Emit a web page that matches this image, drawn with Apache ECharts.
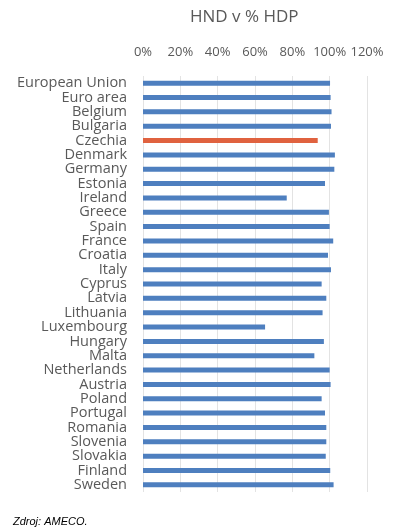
<!DOCTYPE html>
<html>
<head>
<meta charset="utf-8">
<script src="https://cdn.jsdelivr.net/npm/echarts@6/dist/echarts.min.js"></script>
<style>
  html, body { margin: 0; padding: 0; background: #fff; }
  #chart { width: 397px; height: 532px; }
</style>
</head>
<body>
<div id="chart"></div>
<script>
  const countries = ['European Union', 'Euro area', 'Belgium', 'Bulgaria', 'Czechia', 'Denmark', 'Germany',
    'Estonia', 'Ireland', 'Greece', 'Spain', 'France', 'Croatia', 'Italy', 'Cyprus', 'Latvia', 'Lithuania',
    'Luxembourg', 'Hungary', 'Malta', 'Netherlands', 'Austria', 'Poland', 'Portugal', 'Romania', 'Slovenia',
    'Slovakia', 'Finland', 'Sweden'];
  const hndShare = [100.2, 100.5, 101.0, 100.7, 93.6, 102.8, 102.5, 97.5, 77.0, 99.6, 100.0, 101.9, 99.1,
    100.7, 95.7, 98.2, 96.2, 65.4, 96.9, 91.8, 100.0, 100.5, 95.7, 97.5, 98.2, 98.2, 97.9, 100.3, 102.1];
  const highlight = 'Czechia';

  const blue = '#4e7fbf';
  const orange = '#e0623f';
  const textColor = '#595959';

  const chart = echarts.init(document.getElementById('chart'));
  chart.setOption({
    animation: false,
    title: [
      {
        text: 'HND v % HDP',
        left: 185,
        top: 4,
        textStyle: { color: textColor, fontSize: 17, fontWeight: 'normal', fontFamily: 'Open Sans' }
      },
      {
        text: 'Zdroj: AMECO.',
        left: 8,
        top: 511,
        textStyle: { color: '#000', fontSize: 11, fontStyle: 'italic', fontWeight: 'normal', fontFamily: 'Liberation Sans' }
      }
    ],
    grid: { left: 143, right: 30, top: 76, bottom: 40, containLabel: false },
    xAxis: {
      type: 'value',
      position: 'top',
      min: 0,
      max: 120,
      interval: 20,
      axisLine: { show: false },
      axisTick: { show: false },
      axisLabel: {
        color: textColor,
        fontSize: 13,
        fontFamily: 'Open Sans',
        margin: 17,
        formatter: (v) => v + '%'
      },
      splitLine: { lineStyle: { color: '#e3e3e3', width: 1 } }
    },
    yAxis: {
      type: 'category',
      inverse: true,
      data: countries,
      axisLine: { show: false },
      axisTick: { show: false },
      axisLabel: { interval: 0, color: textColor, fontSize: 14.5, fontFamily: 'Open Sans', margin: 16 }
    },
    series: [
      {
        type: 'bar',
        barWidth: 5,
        data: hndShare.map((v, i) => ({
          value: v,
          itemStyle: { color: countries[i] === highlight ? orange : blue }
        }))
      }
    ]
  });
</script>
</body>
</html>
